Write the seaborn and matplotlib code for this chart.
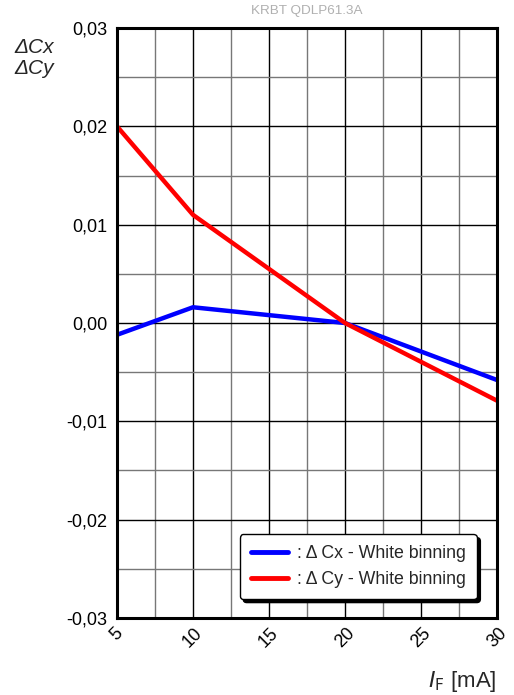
import matplotlib
matplotlib.use("Agg")
import matplotlib.pyplot as plt
import seaborn as sns
import pandas as pd
from matplotlib.ticker import MultipleLocator, FuncFormatter

current_mA = [5, 10, 20, 30]
delta_cx = [-0.0012, 0.0016, 0.0, -0.0058]
delta_cy = [0.020, 0.011, 0.0, -0.0079]
series_names = [": \u0394 Cx - White binning", ": \u0394 Cy - White binning"]
x_ticks = [5, 10, 15, 20, 25, 30]
y_ticks = [-0.03, -0.02, -0.01, 0.00, 0.01, 0.02, 0.03]

sns.set_style("white")
plt.rcParams['font.family'] = ['Liberation Sans', 'DejaVu Sans']

df = pd.DataFrame({
    "I": current_mA * 2,
    "val": delta_cx + delta_cy,
    "series": [series_names[0]] * len(current_mA) + [series_names[1]] * len(current_mA),
})

fig = plt.figure(figsize=(5.14, 6.95), dpi=100)
ax = fig.add_axes([0.2276, 0.1108, 0.7394, 0.8489])

sns.lineplot(data=df, x="I", y="val", hue="series", palette=["#0000ff", "#ff0000"],
             linewidth=3.2, ax=ax, legend=True)

ax.set_xlim(5, 30)
ax.set_ylim(-0.03, 0.03)
ax.set_xticks(x_ticks)
ax.set_yticks(y_ticks)
ax.xaxis.set_minor_locator(MultipleLocator(2.5))
ax.yaxis.set_minor_locator(MultipleLocator(0.005))
ax.grid(which="major", color="black", linewidth=1.0)
ax.grid(which="minor", color="#777777", linewidth=1.0)
ax.set_axisbelow(True)
ax.yaxis.set_major_formatter(FuncFormatter(lambda v, p: f"{v:.2f}".replace(".", ",").replace("-0,00", "0,00")))
ax.tick_params(axis="both", which="both", length=0, labelsize=13, colors="black")
ax.tick_params(axis="y", pad=7)
ax.tick_params(axis="x", pad=5)
for lbl in ax.get_xticklabels():
    lbl.set_rotation(45)
    lbl.set_ha("center")
for s in ax.spines.values():
    s.set_color("black")
    s.set_linewidth(2.2)

ax.set_xlabel("")
ax.set_ylabel("")
fig.text(0.965, 0.012, r"$\mathit{I}_{\mathrm{F}}$ [mA]", ha="right", va="baseline", fontsize=16)
fig.text(0.028, 0.945, "\u0394Cx\n\u0394Cy", ha="left", va="top", fontsize=15, style="italic", linespacing=1.12)
fig.text(0.597, 0.984, "KRBT QDLP61.3A", ha="center", va="center", fontsize=9.7, color="#b0b0b0")

leg = ax.legend(loc="lower right", bbox_to_anchor=(0.947, 0.032), frameon=True, fancybox=True,
                shadow={"color": "black", "alpha": 1.0, "ox": 2.5, "oy": -2.5}, fontsize=12.8,
                handlelength=2.1, handletextpad=0.5, borderpad=0.62, labelspacing=0.5,
                borderaxespad=0.0, framealpha=1, edgecolor="black")
leg.get_frame().set_linewidth(1.0)
for line in leg.get_lines():
    line.set_linewidth(3.5)

fig.savefig("out.png", dpi=100)
